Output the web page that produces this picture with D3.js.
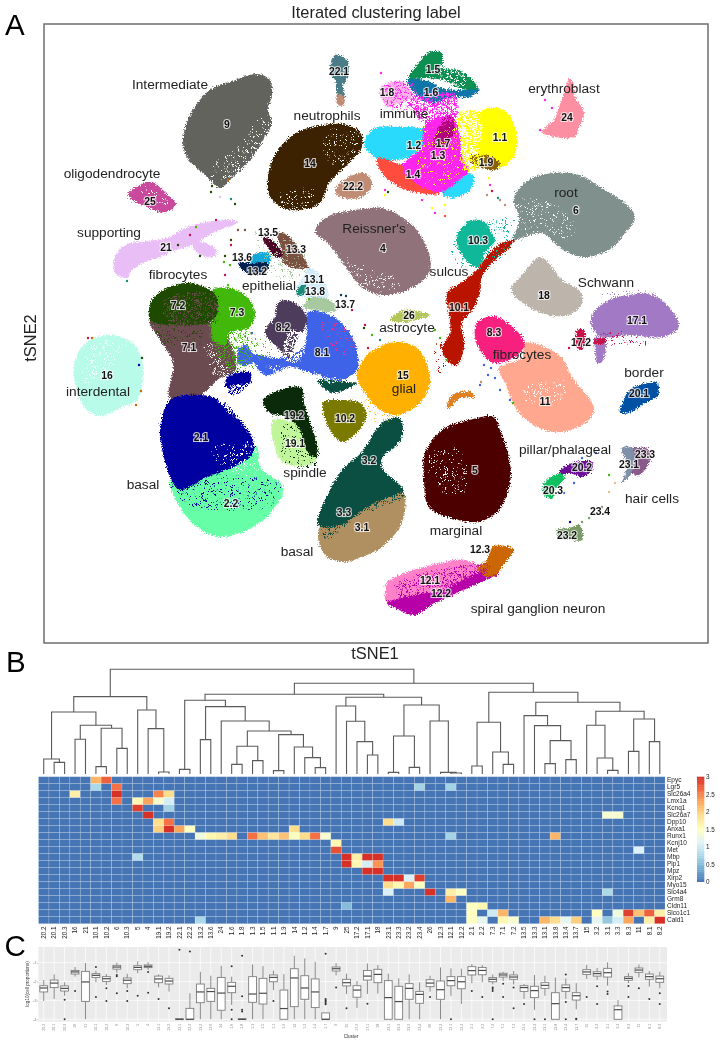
<!DOCTYPE html>
<html>
<head>
<meta charset="utf-8">
<script src="https://cdn.jsdelivr.net/npm/d3@7"></script>
<style>
    html, body { margin: 0; background: #fff; }
    svg { display: block; filter: blur(.45px); }
    text { font-family: "Liberation Sans", Arial, sans-serif; }
</style>
</head>
<body>
<svg id="chart" width="724" height="1049"></svg>
<script>
// order of the clusters under the heatmap and the boxplot
let clusterOrder = ['20.2','20.1','20.3','16','21','10.1','10.2','6','10.3','5','4','19.1','19.2','22.1','22.2','13.2','13.6','24','1.6','1.8','1.3','1.5','1.1','1.9','14','1.2','1.4','1.7','9','25','17.2','17.1','18','23.1','23.3','23.2','23.4','26','12.3','12.1','12.2','2.1','2.2','7.3','7.1','7.2','13.5','13.3','13.1','13.8','13.4','13.7','15','3.2','3.1','3.3','8.3','11','8.1','8.2']

let genes = ['Epyc','Lgr5','Slc26a4','Lmx1a','Kcnq1','Slc26a7','Dpp10','Anxa1','Runx1','Kcnj10','Met','Mbp','Plp1','Mpz','Xirp2','Myo15','Slc4a4','Grm8','Cldn11','Slco1c1','Cald1']

// non zero heatmap cells per gene: [column, value]
let heatCells = [
    [[5,2.2],[6,2.7]],
    [[5,.75],[7,2.6],[36,.7],[39,.7]],
    [[3,1.7],[7,3],[11,2.5],[12,1.9]],
    [[7,2.6],[9,1.6],[10,2.3],[11,1.4],[12,1.05]],
    [[9,2.9],[12,.7]],
    [[10,3],[54,1.4],[55,1.4]],
    [[11,1.9],[12,2.6],[33,1.9],[34,1]],
    [[11,2],[12,3],[13,2.3],[14,1.5],[24,1.9]],
    [[15,1.3],[16,1.6],[17,1.7],[18,1.9],[20,2.6],[21,2.1],[22,1.8],[23,2.1],[24,1.5],[25,1.9],[26,2.6],[27,1.4],[39,.7],[49,2.2]],
    [[28,1.6]],
    [[28,2.8],[57,1.1]],
    [[9,.8],[29,3],[30,1.7],[31,3],[32,3]],
    [[29,3],[30,1.6],[31,1.05],[32,2.4]],
    [[31,3],[32,3]],
    [[33,3],[34,3],[35,1.1],[36,2.9]],
    [[33,1.9],[34,1.6],[35,2.3],[36,1.5]],
    [[33,1.1],[37,3],[39,1.7],[40,1.5],[54,.75]],
    [[39,2.2]],
    [[29,.5],[41,1.5],[42,1.6]],
    [[41,1.5],[43,1],[44,2.2],[53,1.5],[55,1.3],[56,2.9],[57,2.1],[58,2.7],[59,1.7]],
    [[15,.75],[41,1.5],[42,1.2],[44,1.6],[45,1.4],[48,2.2],[49,1.9],[50,1.2],[51,2],[53,1.2],[54,.6],[55,1.05],[56,2.3],[58,1.7],[59,3]]
]
let heatLegendTicks = [0, .5, 1, 1.5, 2, 2.5, 3]
let heatLegendSteps = d3.range(0, 3, .05)

// dendrogram as [height, left, right], leaves are column numbers
let dendroLeft = [232,
    [186, [45, 0, [35, 1, 2]], [146, [104, 3, 4], [137, [22, 5, 6], [77, 7, 8]]]],
    [192, 9, [136, 10, [6, 11, 12]]]]
let dendroMid = [239,
    [221, [14, 13, 14], [202, [103, 15, 16], [159, 17, [129, [83, [29, 18, 19], [40, 20, 21]], [118, [10, 22, 23], [81, 24, [49, 25, [19, 26, 27]]]]]]]],
    [230, [204, 28, [158, 29, [97, 30, [57, 31, 32]]]], [207, [114, [5, 33, 34], [20, 35, 36]], [159, 37, [5, 38, [3, 39, 40]]]]]]
let dendroRight = [245,
    [155, [24, 41, 42], [66, 43, [29, 44, 45]]],
    [215, [175, 46, [145, 47, [100, [31, 48, 49], [43, 50, 51]]]],
        [188, [146, 52, [48, 53, [11, 54, 55]]], [165, [68, 56, 57], [97, 58, 59]]]]]
let dendroTree = [314, dendroLeft, [272, dendroMid, dendroRight]]

// boxplot stats, log10(cell proportions), in clusterOrder
let whiskerHi = [-1.92,-1.62,-2.04,-1.23,-1.02,-1.42,-1.6,-1,-1.58,-.93,-.98,-1.62,-1.67,-4,-2.62,-1.48,-1.69,-1.16,-1.74,-4,-1.09,-1.18,-1.42,-1.6,-.63,-.77,-.95,-3.66,-1.02,-1.58,-1.97,-1.04,-1.12,-1.58,-1.83,-1.62,-2.04,-1.69,-1.25,-1.3,-1.32,-1.07,-1.12,-1.62,-1.48,-1.44,-2.13,-1.65,-1.69,-1.79,-1.83,-2.08,-1.11,-1.28,-.98,-2.98,-1.55,-1.09,-1.44,-1.48]
let boxQ3 = [-2.22,-1.92,-2.23,-1.41,-1.46,-1.58,-1.74,-1.14,-1.81,-1.16,-1.12,-1.71,-1.83,-3.97,-3.42,-2.13,-2.36,-1.78,-2.04,-3.97,-1.74,-1.83,-1.65,-2.45,-1.32,-1.69,-1.86,-3.66,-1.23,-1.88,-2.22,-1.41,-1.35,-1.95,-2.25,-2.11,-2.52,-1.9,-1.97,-1.74,-1.74,-1.21,-1.25,-1.79,-1.56,-1.65,-2.22,-2.25,-2.06,-2.59,-2.18,-2.59,-1.37,-1.48,-1.3,-3.29,-1.74,-1.28,-1.6,-1.71]
let boxMed = [-2.34,-2.08,-2.36,-1.49,-2.02,-1.67,-1.85,-1.23,-1.93,-1.25,-1.19,-1.86,-1.97,-4,-4,-2.55,-2.53,-2.61,-2.25,-4,-2.66,-2.62,-1.78,-3.43,-1.81,-2.34,-2.55,-4,-1.32,-2.06,-2.45,-1.71,-1.62,-2.85,-3.06,-2.36,-2.68,-2.08,-2.43,-1.95,-2.01,-1.42,-1.41,-1.88,-1.65,-1.76,-2.32,-2.48,-2.2,-3.17,-2.32,-2.75,-1.49,-1.58,-1.53,-3.49,-1.83,-1.39,-1.74,-1.85]
let boxQ1 = [-2.55,-2.32,-2.5,-1.6,-3.05,-1.78,-1.99,-1.34,-2.11,-1.37,-1.26,-2.06,-2.13,-4.01,-4,-3.12,-3.05,-3.52,-2.59,-4.01,-3.1,-3.19,-2.01,-4,-3.33,-2.94,-3.38,-4,-1.44,-2.23,-2.83,-1.92,-2.06,-4,-4,-2.94,-3.15,-2.27,-2.94,-2.22,-2.38,-1.65,-1.64,-2.01,-1.76,-1.88,-2.52,-2.85,-2.36,-4,-2.52,-2.98,-1.62,-1.71,-1.76,-4,-1.93,-1.51,-1.88,-2.04]
let whiskerLo = [-3.03,-2.92,-2.75,-1.74,-4,-2.04,-2.18,-1.53,-2.36,-1.56,-1.39,-2.31,-2.53,-4,-4,-4,-4,-4,-3.24,-4,-4,-4,-2.45,-4,-4,-4,-4,-4,-1.67,-2.66,-3.4,-2.66,-2.64,-4,-4,-4,-4,-2.53,-4,-2.76,-3.19,-2.09,-2.04,-2.15,-1.97,-2.15,-2.92,-3.5,-2.75,-4,-2.92,-3.47,-1.86,-1.92,-2.22,-4,-2.08,-1.78,-2.27,-2.36]
let boxOutliers = [[],[],[-2.96,-4],[-2.5],[],[-1.23,-2.82],[-2.36,-3.03],[-1.65,-1.72,-2.62],[-2.5,-3.03],[-2.75],[-1.49,-2.59],[-2.92],[-3.42],[-.31],[-.4],[],[],[],[-1.19,-3.49,-4],[-.63,-2.78,-3.5,-3.58],[],[],[-3.03],[],[],[],[],[-.52,-2.92,-2.99,-3.06,-3.13,-3.2],[-2.32],[-3.42],[],[-3.17],[],[],[],[],[],[-2.82],[],[-4],[],[-2.5],[-2.82],[-2.32,-2.39,-2.5,-4],[-2.11,-2.82],[-2.32,-3.42],[-3.19],[-4],[-4],[],[-1.62,-3.08,-4],[-4,-3.97],[-2.82],[-2.25,-3.19],[-2.53,-2.66],[],[-2.23,-2.82],[-2.36],[-2.92],[-2.62,-3.19]]
let boxTicks = [-1, -2, -3, -4]

// tSNE colours per cluster
let clusterColor = {
    '9':'#63635d','14':'#3c2200','22.2':'#c08c74','22.1':'#4a7c88','25':'#c9499c','21':'#e9bdf6','4':'#8f727a','6':'#7f908d','24':'#fd8fa2',
    '1.5':'#0c8f50','1.6':'#1075a8','1.8':'#ffb2ea','1.2':'#2adafc','1.3':'#ff24ee','1.7':'#b0007c','1.4':'#ff4c3e','1.1':'#ffff00','1.9':'#8a6008',
    '10.3':'#10b89a','10.1':'#b81400','26':'#b2c65c','15':'#ffb000','8.3':'#f8207e','11':'#ffa88f','18':'#bdb5ab','17.1':'#a279c4','17.2':'#c81048',
    '20.1':'#0050a4','5':'#4d0000','3.2':'#0a4f42','3.1':'#b09060','10.2':'#7b7a00','19.1':'#c0f59a','19.2':'#0a2a0a','2.2':'#66ffa8','2.1':'#0000a0',
    '7.1':'#6b4a50','7.2':'#1e4a00','7.3':'#42b80a','8.2':'#4e3c5c','8.1':'#3f63e8','13.5':'#4a0826','13.3':'#7a5040','13.6':'#10a8d8','13.2':'#04224f',
    '13.1':'#d4ecf8','13.8':'#a8c8a0','13.4':'#1a8a78','13.7':'#0b3a50','16':'#b8fbe8','12.1':'#ff82c8','12.2':'#b800a8','12.3':'#cc6600','20.2':'#6a0f96',
    '20.3':'#10c060','23.1':'#8090a8','23.3':'#8a5a8a','23.2':'#7a9a6a','23.4':'#e8c090','orange':'#e08020','white':'#ffffff','pink':'#f03090'
}

// cluster outlines, [tSNE1, tSNE2]
let outlines = [
    ['9', [[213,569],[226,563],[228,548],[224,533],[228,520],[219,503],[206,483],[189,466],[176,455],[163,466],[143,486],[139,503],[146,528],[166,553],[189,562]]],
    ['22.2', [[318,470],[303,465],[291,453],[296,446],[318,446],[328,458],[324,468]]],
    ['14', [[303,518],[317,510],[318,496],[303,478],[286,461],[276,440],[256,433],[239,435],[226,446],[224,466],[232,490],[252,510],[279,518]]],
    ['22.1', [[291,588],[303,583],[304,568],[299,556],[301,546],[294,546],[291,563],[286,571]]],
    ['22.2', [[293,548],[299,548],[300,538],[294,538]]],
    ['25', [[84,448],[106,461],[126,446],[132,440],[123,431],[103,436]]],
    ['21', [[189,423],[194,421],[169,410],[149,398],[129,392],[116,386],[99,380],[86,370],[84,365],[71,370],[71,386],[81,398],[103,402],[123,405],[143,416],[169,422]]],
    ['21', [[148,403],[173,393],[169,386],[153,390]]],
    ['4', [[271,411],[283,426],[318,434],[338,435],[358,426],[375,410],[386,386],[385,370],[368,355],[338,348],[318,356],[296,384],[284,400]]],
    ['6', [[470,446],[485,463],[508,470],[535,468],[561,453],[581,440],[591,426],[581,410],[565,393],[538,386],[515,396],[498,410],[481,406],[470,403],[475,423]]],
    ['24', [[525,564],[529,560],[531,546],[540,531],[535,515],[531,506],[511,506],[498,511],[510,523],[515,536],[520,550]]],
    ['1.8', [[336,555],[348,561],[361,560],[368,546],[355,540],[345,536],[338,543]]],
    ['1.5', [[385,591],[398,590],[400,575],[415,573],[431,560],[433,553],[415,555],[398,563],[381,565],[365,565],[373,578]]],
    ['1.6', [[363,563],[381,563],[398,555],[415,553],[436,553],[425,546],[408,546],[385,540],[371,550]]],
    ['1.2', [[320,500],[331,515],[355,516],[378,515],[390,511],[378,496],[365,486],[338,483],[328,488]]],
    ['1.2', [[398,450],[421,470],[430,466],[426,453],[408,445]]],
    ['1.4', [[333,485],[358,478],[378,470],[391,461],[396,450],[375,450],[355,456],[338,470]]],
    ['1.3', [[381,518],[408,526],[415,510],[418,486],[425,473],[415,463],[398,451],[378,456],[358,476],[378,496]]],
    ['1.7', [[401,526],[408,528],[410,510],[405,503],[398,496],[390,496],[393,511]]],
    ['1.1', [[436,530],[453,536],[465,528],[473,506],[470,486],[458,476],[445,475],[435,488],[438,513]]],
    ['1.9', [[426,486],[441,488],[456,480],[451,473],[438,475],[428,480]]],
    ['10.3', [[428,423],[441,421],[448,410],[451,403],[441,390],[435,376],[425,380],[415,393],[413,408]]],
    ['10.1', [[470,403],[465,395],[451,383],[438,366],[436,350],[428,333],[418,320],[420,296],[413,278],[405,281],[398,293],[406,311],[406,323],[403,350],[418,361],[433,373],[446,391],[460,401]]],
    ['26', [[346,323],[359,333],[386,328],[373,323],[363,321]]],
    ['15', [[319,283],[333,295],[353,301],[373,295],[384,276],[386,260],[376,240],[353,228],[336,233],[321,250],[313,266]]],
    ['orange', [[403,235],[408,248],[428,251],[430,246],[415,245],[406,235]]],
    ['11', [[481,300],[515,288],[528,266],[550,235],[545,223],[518,211],[495,215],[475,230],[461,260],[455,275],[478,285]]],
    ['8.3', [[450,327],[466,318],[481,300],[471,286],[450,280],[438,290],[431,306],[433,320]]],
    ['18', [[496,386],[508,376],[518,363],[535,353],[538,340],[525,328],[505,328],[485,336],[467,353],[478,368]]],
    ['17.1', [[548,328],[565,343],[585,348],[608,348],[625,336],[635,316],[618,306],[585,308],[558,306],[548,316]]],
    ['17.1', [[551,306],[561,303],[558,281],[553,280],[551,293]]],
    ['17.2', [[533,313],[540,313],[541,303],[538,293],[533,295]]],
    ['17.2', [[550,303],[561,305],[560,300],[550,300]]],
    ['20.1', [[605,260],[613,261],[614,248],[601,240],[585,230],[576,230],[580,243],[588,255]]],
    ['5', [[398,213],[425,223],[450,226],[456,213],[461,200],[466,180],[466,160],[455,133],[435,121],[415,123],[385,136],[380,163],[381,190]]],
    ['3.1', [[318,160],[338,163],[355,158],[361,146],[358,120],[338,96],[318,86],[299,81],[281,88],[274,106],[276,116],[296,126],[318,136]]],
    ['3.2', [[338,220],[355,225],[359,210],[351,196],[340,188],[338,175],[356,158],[360,153],[326,138],[296,118],[274,118],[286,153],[298,173],[318,191]]],
    ['3.2', [[273,263],[303,261],[313,260],[289,250],[279,256]]],
    ['10.2', [[279,241],[293,243],[316,240],[322,230],[319,218],[308,206],[298,201],[288,210],[281,225]]],
    ['19.1', [[229,223],[269,210],[273,185],[266,178],[239,181],[231,196]]],
    ['19.2', [[219,243],[256,256],[261,236],[271,206],[273,186],[264,190],[256,213],[243,226],[226,230]]],
    ['2.2', [[126,163],[156,166],[189,190],[213,196],[216,176],[239,156],[229,133],[209,116],[176,106],[153,116],[136,136]]],
    ['7.1', [[106,323],[143,326],[178,313],[192,273],[176,265],[156,248],[126,245],[129,280],[116,303]]],
    ['7.3', [[169,353],[186,355],[203,346],[211,330],[206,316],[186,310],[181,298],[169,303],[168,328]]],
    ['7.2', [[108,343],[123,355],[143,360],[163,355],[173,346],[169,323],[126,318],[106,323]]],
    ['2.1', [[126,243],[156,248],[176,243],[196,223],[209,203],[209,190],[189,176],[163,166],[136,153],[126,166],[119,190],[116,213]]],
    ['2.1', [[183,266],[206,271],[206,260],[189,248],[183,253]]],
    ['8.1', [[264,331],[286,328],[306,310],[313,293],[313,273],[296,263],[266,270],[246,276],[221,268],[208,288],[236,285],[259,296],[263,316]]],
    ['8.1', [[201,298],[211,283],[196,278],[194,293]]],
    ['8.2', [[243,343],[259,333],[263,320],[253,303],[246,285],[234,295],[221,311],[231,326],[234,340]]],
    ['13.3', [[233,410],[246,406],[259,386],[264,376],[249,375],[239,381],[238,393]]],
    ['13.5', [[219,406],[228,403],[239,388],[234,385],[224,395]]],
    ['13.6', [[209,388],[224,390],[226,381],[206,380]]],
    ['13.2', [[194,381],[206,380],[224,380],[224,373],[213,368],[201,371]]],
    ['13.1', [[264,375],[273,371],[281,360],[284,346],[269,345],[256,348],[253,356],[259,365]]],
    ['13.8', [[269,346],[286,343],[293,335],[288,331],[273,333],[259,336]]],
    ['13.4', [[254,355],[263,358],[259,348],[253,348]]],
    ['16', [[31,283],[43,301],[63,308],[84,303],[96,290],[99,266],[93,243],[76,235],[56,227],[41,235],[31,260]]],
    ['12.1', [[343,60],[361,70],[401,81],[421,83],[445,70],[418,56],[398,46],[361,46],[343,40]]],
    ['12.2', [[343,40],[361,46],[398,53],[418,63],[448,75],[455,70],[435,60],[415,51],[391,40],[371,28],[355,33]]],
    ['12.3', [[448,96],[470,94],[461,80],[451,68],[443,66],[433,75],[443,83]]],
    ['20.2', [[528,180],[548,181],[548,173],[538,166],[526,170],[515,168],[515,171]]],
    ['20.3', [[518,170],[521,166],[511,153],[508,144],[500,148],[500,160]]],
    ['23.1', [[578,195],[590,195],[591,183],[588,170],[578,161],[583,176]]],
    ['23.3', [[590,195],[605,193],[605,180],[595,168],[588,170],[591,183]]],
    ['23.2', [[525,115],[536,118],[538,103],[528,103],[515,106],[513,113]]]
]

// zones where the colour of one cluster is mixed into another, and the gaps between the points
let mixedZones = [
    ['white','sparse',[[163,473],[191,493],[218,528],[226,518],[206,483],[181,461]]],
    ['white','sparse',[[286,513],[316,508],[301,478],[281,483]]],
    ['white','sparse',[[236,448],[271,453],[261,433],[241,435]]],
    ['white','sparse',[[291,388],[321,378],[356,363],[351,353],[316,358],[296,373]]],
    ['white','sparse',[[386,188],[416,193],[421,153],[406,148],[386,168]]],
    ['white','sparse',[[476,443],[511,438],[531,418],[526,403],[496,413],[476,403]]],
    ['white','sparse',[[476,253],[521,263],[516,243],[481,243]]],
    ['white','sparse',[[46,298],[81,298],[66,273],[41,258]]],
    ['white','sparse',[[166,193],[216,198],[211,168],[186,173]]],
    ['white','dense',[[171,248],[206,258],[209,223],[196,223]]],
    ['white','mid',[[161,298],[196,293],[191,271],[171,268],[166,283]]],
    ['white','mid',[[396,578],[421,571],[421,558],[396,563]]],
    ['white','dense',[[246,313],[261,308],[256,283],[241,283]]],
    ['white','mid',[[221,278],[296,263],[266,258],[236,268]]],
    ['white','sparse',[[96,455],[111,455],[126,438],[106,443]]],
    ['2.1','sparse',[[126,163],[239,158],[226,138],[146,138]]],
    ['7.1','mid',[[121,343],[171,348],[171,318],[126,318]]],
    ['7.2','sparse',[[111,323],[156,323],[156,298],[121,298]]],
    ['7.3','mid',[[166,318],[206,313],[201,273],[181,278]]],
    ['19.2','sparse',[[241,218],[271,203],[273,178],[241,181]]],
    ['3.2','mid',[[281,123],[341,165],[361,148],[316,128],[281,103]]],
    ['12.2','mid',[[351,58],[446,78],[436,63],[371,38]]],
    ['1.1','dense',[[411,528],[438,530],[438,478],[421,473],[416,508]]],
    ['1.3','dense',[[366,543],[411,548],[411,523],[381,518]]],
    ['1.6','sparse',[[376,546],[411,548],[411,528],[386,525]]],
    ['1.1','sparse',[[376,513],[416,513],[421,473],[381,458]]],
    ['1.3','mid',[[336,553],[366,561],[376,538],[346,535]]],
    ['pink','sparse',[[276,323],[311,308],[306,288],[286,298]]],
    ['13.8','sparse',[[211,411],[256,398],[266,373],[241,363],[216,383]]],
    ['10.3','sparse',[[411,403],[466,428],[470,403],[441,373],[411,381]]],
    ['15','sparse',[[321,250],[351,228],[341,218],[321,233]]],
    ['17.2','sparse',[[534,298],[566,313],[606,298],[566,298]]],
    ['17.1','sparse',[[556,348],[596,353],[616,348],[576,343]]],
    ['10.1','sparse',[[396,303],[411,283],[396,268],[391,288]]],
    ['7.3','sparse',[[196,305],[230,300],[214,275],[196,280]]]
]

// single points lying away from the clusters: [cluster, tSNE1, tSNE2]
let strayPoints = [
    ['7.2',168,457],['7.2',167,451],['21',176,446],['13.4',187,444],['7.2',191,439],['12.3',184,463],
    ['17.2',172,423],['7.3',152,416],['17.2',146,408],['13.3',194,413],['13.3',201,413],['7.2',187,403],['17.2',187,398],
    ['7.2',181,387],['7.2',156,387],['13.4',83,362],['7.2',134,398],['17.2',44,305],['12.3',48,305],['2.1',95,278],
    ['7.2',98,285],['12.3',97,252],['12.3',92,238],['7.3',180,381],['17.2',181,368],['7.3',184,358],['7.3',186,378],
    ['8.1',208,310],['7.3',265,344],['17.2',321,318],['7.3',328,308],['13.4',336,303],['17.2',324,295],['17.2',308,333],['7.2',320,315],
    ['13.7',297,348],['13.7',302,347],['13.7',299,342],['10.1',397,298],['7.3',403,283],['7.3',391,313],['7.3',396,305],
    ['1.1',445,465],['1.3',446,458],['22.2',443,448],['17.2',448,452],['1.1',388,435],['1.3',391,430],['1.4',401,427],['1.1',401,438],['1.3',378,443],
    ['1.3',341,453],['1.1',341,448],['7.2',344,451],['22.2',456,443],['22.2',461,438],['13.4',454,445],['1.3',501,543],['1.3',508,535],['1.3',496,513],
    ['1.3',391,573],['1.3',337,570],['23.4',565,151],['23.4',571,160],['23.2',558,136],['23.4',551,130],['23.2',545,125],['23.2',538,121],['2.1',526,121],
    ['8.1',440,278],['8.1',447,275],['8.1',444,268],['8.1',451,265],['8.1',456,253],['8.1',466,243],['7.3',469,240],['22.2',437,261],['8.1',436,258],
    ['8.1',530,160],['8.1',538,185],['8.1',552,190],['8.1',520,150],['17.2',525,295],['7.3',565,168]
]

// numbers printed on the clusters
let clusterLabels = ['22.1','9','14','22.2','25','21','13.5','13.3','13.6','13.2','13.1','13.8','13.7','7.2','7.3','8.2','8.1','7.1','16','2.1','2.2','19.2','19.1','10.2','3.3','3.1','3.2','5','11','15','26','10.1','10.3','4','6','18','17.1','17.2','8.3','24','1.5','1.6','1.8','1.1','1.2','1.7','1.3','1.9','1.4','20.1','20.2','20.3','23.3','23.1','23.4','23.2','12.3','12.1','12.2']
let clusterLabelX = [295,183,266,309,106,122,224,252,198,213,270,271,301,134,193,239,278,145,63,157,187,250,251,301,300,318,325,431,501,359,365,415,434,339,532,500,593,537,450,523,389,387,343,456,370,399,394,442,369,595,538,509,601,585,556,523,436,386,397]
let clusterLabelY = [572,519,480,457,442,396,411,394,386,372,364,352,339,338,331,316,291,296,268,206,140,228,200,225,131,116,183,173,242,268,328,336,403,395,433,348,323,301,311,526,574,551,551,506,498,500,488,481,469,250,176,153,189,179,132,108,94,63,50]

// names of the cell types
let typeLabels = ['Intermediate','neutrophils','immune','erythroblast','oligodendrocyte','supporting','fibrocytes','epithelial',"Reissner's",'sulcus','astrocyte','glial','Schwann','fibrocytes','border','interdental','basal','spindle','basal','marginal','pillar/phalageal','hair cells','spiral ganglion neuron','root']
let typeLabelX = [126,283,360,520,68,65,134,225,330,405,363,360,562,478,600,54,99,261,253,412,521,608,494,522]
let typeLabelY = [554,523,525,550,465,406,364,353,410,367,311,250,356,284,266,247,154,166,87,108,189,140,30,446]

let chart = d3.select('#chart')

// ---- panel letters and titles
chart.selectAll('.letter')
    .data([['A', 5, 34.5], ['B', 6, 671.5], ['C', 4.5, 955.5]])
    .enter()
    .append('text')
    .attr('class', 'letter')
    .attr('x', (d) => d[1])
    .attr('y', (d) => d[2])
    .attr('font-size', 29.5)
    .text((d) => d[0])

let frame = { left: 44, right: 708, top: 24, bottom: 643 }

chart.append('text').attr('x', 376).attr('y', 17.5).attr('text-anchor', 'middle').attr('font-size', 16.4).attr('fill', '#222').text('Iterated clustering label')
chart.append('text').attr('x', 375).attr('y', 659).attr('text-anchor', 'middle').attr('font-size', 16.4).attr('fill', '#222').text('tSNE1')
chart.append('text').attr('transform', 'translate(36,338) rotate(-90)').attr('text-anchor', 'middle').attr('font-size', 16.4).attr('fill', '#222').text('tSNE2')

// ---- panel A, tSNE map
let tsneX = d3.scaleLinear().domain([0, 664]).range([frame.left, frame.right])
let tsneY = d3.scaleLinear().domain([0, 619]).range([frame.bottom, frame.top])
let blob = d3.line()
    .x((d) => tsneX(d[0]))
    .y((d) => tsneY(d[1]))
    .curve(d3.curveCatmullRomClosed.alpha(.5))

// grainy edges and speckled fills, the cells are far too many to be drawn one by one
let defs = chart.append('defs')
let grain = defs.append('filter').attr('id', 'grain')
    .attr('filterUnits', 'userSpaceOnUse').attr('x', 40).attr('y', 20).attr('width', 672).attr('height', 628)
    .attr('color-interpolation-filters', 'sRGB')
grain.append('feTurbulence').attr('type', 'fractalNoise').attr('baseFrequency', .8).attr('numOctaves', 2).attr('seed', 4).attr('result', 'noise')
grain.append('feDisplacementMap').attr('in', 'SourceGraphic').attr('in2', 'noise').attr('scale', 6)
    .attr('xChannelSelector', 'R').attr('yChannelSelector', 'G')

let speckleLevels = { sparse: .6, mid: .53, dense: .46 }
Object.keys(speckleLevels).forEach((level) => {
    let f = defs.append('filter').attr('id', 'speckle-' + level)
        .attr('filterUnits', 'userSpaceOnUse').attr('x', 40).attr('y', 20).attr('width', 672).attr('height', 628)
        .attr('color-interpolation-filters', 'sRGB')
    f.append('feTurbulence').attr('type', 'fractalNoise').attr('baseFrequency', .55).attr('numOctaves', 2).attr('seed', 11).attr('result', 'noise')
    f.append('feColorMatrix').attr('in', 'noise').attr('type', 'matrix')
        .attr('values', '0 0 0 0 0  0 0 0 0 0  0 0 0 0 0  14 0 0 0 ' + (-14 * speckleLevels[level]))
        .attr('result', 'mask')
    f.append('feComposite').attr('in', 'SourceGraphic').attr('in2', 'mask').attr('operator', 'in').attr('result', 'dots')
    f.append('feDisplacementMap').attr('in', 'dots').attr('in2', 'noise').attr('scale', 5)
        .attr('xChannelSelector', 'R').attr('yChannelSelector', 'G')
})

chart.append('g')
    .attr('filter', 'url(#grain)')
    .selectAll('path')
    .data(outlines)
    .enter()
    .append('path')
    .attr('d', (d) => blob(d[1]))
    .attr('fill', (d) => clusterColor[d[0]])

Object.keys(speckleLevels).forEach((level) => {
    chart.append('g')
        .attr('filter', 'url(#speckle-' + level + ')')
        .selectAll('path')
        .data(mixedZones.filter((d) => d[1] == level))
        .enter()
        .append('path')
        .attr('d', (d) => blob(d[2]))
        .attr('fill', (d) => clusterColor[d[0]])
})

chart.append('g')
    .selectAll('circle')
    .data(strayPoints)
    .enter()
    .append('circle')
    .attr('cx', (d) => tsneX(d[1]))
    .attr('cy', (d) => tsneY(d[2]))
    .attr('r', 1.2)
    .attr('fill', (d) => clusterColor[d[0]])

chart.append('rect')
    .attr('x', frame.left).attr('y', frame.top)
    .attr('width', frame.right - frame.left).attr('height', frame.bottom - frame.top)
    .attr('fill', 'none').attr('stroke', '#6e6e6e').attr('stroke-width', 1.5)

chart.append('g')
    .selectAll('text')
    .data(typeLabels)
    .enter()
    .append('text')
    .attr('x', (d, i) => tsneX(typeLabelX[i]))
    .attr('y', (d, i) => tsneY(typeLabelY[i]))
    .attr('text-anchor', 'middle')
    .attr('font-size', 13.7)
    .attr('fill', '#222')
    .text((d) => d)

chart.append('g')
    .selectAll('text')
    .data(clusterLabels)
    .enter()
    .append('text')
    .attr('x', (d, i) => tsneX(clusterLabelX[i]))
    .attr('y', (d, i) => tsneY(clusterLabelY[i]))
    .attr('text-anchor', 'middle')
    .attr('dominant-baseline', 'central')
    .attr('font-size', 10.4)
    .attr('font-weight', 'bold')
    .attr('fill', '#111')
    .attr('stroke', '#fff')
    .attr('stroke-opacity', .75)
    .attr('stroke-width', 2.2)
    .attr('paint-order', 'stroke')
    .text((d) => d)

// ---- panel B, dendrogram
let columns = d3.scaleBand().domain(clusterOrder).range([38.5, 665])
let rows = d3.scaleBand().domain(genes).range([776.7, 923.7])
let colCenter = (i) => columns(clusterOrder[i]) + columns.bandwidth() / 2
let dendroY = d3.scaleLinear().domain([0, 314]).range([774, 669.3])
let dendroPaths = []

function walkTree(node) {
    if (typeof node == 'number') return { x: colCenter(node), h: 0 }
    let a = walkTree(node[1])
    let b = walkTree(node[2])
    let y = dendroY(node[0])
    dendroPaths.push('M' + a.x + ',' + dendroY(a.h) + 'V' + y + 'H' + b.x + 'V' + dendroY(b.h))
    return { x: (a.x + b.x) / 2, h: node[0] }
}
walkTree(dendroTree)

chart.append('g')
    .selectAll('path')
    .data(dendroPaths)
    .enter()
    .append('path')
    .attr('d', (d) => d)
    .attr('fill', 'none')
    .attr('stroke', '#5a5a5a')
    .attr('stroke-width', 1.1)

// ---- panel B, heatmap
let heatColor = d3.scaleLinear()
    .domain(d3.range(9).map((i) => i * 3 / 8))
    .range(['#4575b4','#74add1','#abd9e9','#e0f3f8','#ffffbf','#fee090','#fdae61','#f46d43','#d73027'])

let heatValue = (r, c) => {
    let hit = heatCells[r].find((d) => d[0] == c)
    return hit ? hit[1] : 0
}

let heat = chart.append('g')
genes.forEach((gene, r) => {
    heat.append('g')
        .selectAll('rect')
        .data(clusterOrder)
        .enter()
        .append('rect')
        .attr('x', (d) => columns(d))
        .attr('y', rows(gene))
        .attr('width', columns.bandwidth())
        .attr('height', rows.bandwidth())
        .attr('fill', (d, c) => heatColor(heatValue(r, c)))
        .attr('stroke', '#fff')
        .attr('stroke-opacity', .22)
        .attr('stroke-width', .7)
})

let geneAxis = chart.append('g')
    .attr('transform', 'translate(665,0)')
    .call(d3.axisRight().scale(rows).tickSize(0).tickPadding(2))
geneAxis.select('.domain').remove()
geneAxis.selectAll('text').attr('font-size', 6.5).attr('fill', '#222').style('font-family', '"Liberation Sans"')

let clusterAxis = chart.append('g')
    .attr('transform', 'translate(0,926.5)')
    .call(d3.axisTop().scale(columns).tickSize(0).tickPadding(0))
clusterAxis.select('.domain').remove()
clusterAxis.selectAll('text')
    .attr('transform', 'rotate(-90)')
    .attr('x', 0)
    .attr('y', 0)
    .attr('dy', '.35em')
    .attr('text-anchor', 'end')
    .attr('font-size', 6.3)
    .attr('fill', '#222')
    .style('font-family', '"Liberation Sans"')
clusterAxis.selectAll('.tick')
    .attr('transform', (d) => 'translate(' + (columns(d) + columns.bandwidth() / 2) + ',0)')

let legendY = d3.scaleLinear().domain([0, 3]).range([881.7, 776.7])
chart.append('g')
    .selectAll('rect')
    .data(heatLegendSteps)
    .enter()
    .append('rect')
    .attr('x', 697)
    .attr('y', (d) => legendY(d + .05))
    .attr('width', 7.3)
    .attr('height', legendY(0) - legendY(.05) + .3)
    .attr('fill', (d) => heatColor(d + .025))
let legendAxis = chart.append('g')
    .attr('transform', 'translate(705,0)')
    .call(d3.axisRight().scale(legendY).tickValues(heatLegendTicks).tickSize(0).tickPadding(1).tickFormat((d) => d))
legendAxis.select('.domain').remove()
legendAxis.selectAll('text').attr('font-size', 6.3).attr('fill', '#222').style('font-family', '"Liberation Sans"')

// ---- panel C, boxplots
let boxY = d3.scaleLinear().domain([-1, -4]).range([962.7, 1019.3])
let panelTop = 947
let panelBottom = 1021.7

chart.append('rect')
    .attr('x', 38.5).attr('y', panelTop)
    .attr('width', 628.5).attr('height', panelBottom - panelTop)
    .attr('fill', '#ebebeb')

chart.append('g').selectAll('line').data(boxTicks).enter().append('line')
    .attr('x1', 38.5).attr('x2', 667)
    .attr('y1', (d) => boxY(d)).attr('y2', (d) => boxY(d))
    .attr('stroke', '#fff').attr('stroke-width', .7)
chart.append('g').selectAll('line').data(clusterOrder).enter().append('line')
    .attr('x1', (d, i) => colCenter(i)).attr('x2', (d, i) => colCenter(i))
    .attr('y1', panelTop).attr('y2', panelBottom)
    .attr('stroke', '#fff').attr('stroke-width', .7)

let boxes = chart.append('g')
    .selectAll('g')
    .data(clusterOrder)
    .enter()
    .append('g')

boxes.append('path')
    .attr('d', (d, i) => 'M' + colCenter(i) + ',' + boxY(whiskerHi[i]) + 'V' + boxY(boxQ3[i]) + 'M' + colCenter(i) + ',' + boxY(boxQ1[i]) + 'V' + boxY(whiskerLo[i]))
    .attr('stroke', '#7d7d7d')
    .attr('stroke-width', .9)
boxes.append('rect')
    .attr('x', (d, i) => colCenter(i) - 3.9)
    .attr('y', (d, i) => boxY(boxQ3[i]))
    .attr('width', 7.8)
    .attr('height', (d, i) => boxY(boxQ1[i]) - boxY(boxQ3[i]))
    .attr('fill', '#fff')
    .attr('stroke', '#7d7d7d')
    .attr('stroke-width', .9)
boxes.append('line')
    .attr('x1', (d, i) => colCenter(i) - 3.9)
    .attr('x2', (d, i) => colCenter(i) + 3.9)
    .attr('y1', (d, i) => boxY(boxMed[i]))
    .attr('y2', (d, i) => boxY(boxMed[i]))
    .attr('stroke', '#4a4a4a')
    .attr('stroke-width', 1.2)
boxes.selectAll('circle')
    .data((d, i) => boxOutliers[i].map((v) => [i, v]))
    .enter()
    .append('circle')
    .attr('cx', (d) => colCenter(d[0]))
    .attr('cy', (d) => boxY(d[1]))
    .attr('r', 1)
    .attr('fill', '#333')

let boxAxis = chart.append('g')
    .attr('transform', 'translate(38.5,0)')
    .call(d3.axisLeft().scale(boxY).tickValues(boxTicks).tickSize(1.5).tickPadding(.5).tickFormat((d) => d))
boxAxis.select('.domain').remove()
boxAxis.selectAll('line').attr('stroke', '#888').attr('stroke-width', .4)
boxAxis.selectAll('text').attr('font-size', 3.6).attr('fill', '#777').style('font-family', '"Liberation Sans"')

let boxBottom = chart.append('g')
    .attr('transform', 'translate(0,' + panelBottom + ')')
    .call(d3.axisBottom().scale(columns).tickSize(0).tickPadding(0))
boxBottom.select('.domain').remove()
boxBottom.selectAll('text')
    .attr('transform', 'rotate(-90)')
    .attr('x', -2)
    .attr('y', 0)
    .attr('dy', '.35em')
    .attr('text-anchor', 'end')
    .attr('font-size', 3.6)
    .attr('fill', '#888')
    .style('font-family', '"Liberation Sans"')

chart.append('text').attr('x', 351).attr('y', 1037.5).attr('text-anchor', 'middle').attr('font-size', 4.6).attr('fill', '#333').text('Cluster')
chart.append('text').attr('transform', 'translate(28.5,984) rotate(-90)').attr('text-anchor', 'middle').attr('font-size', 4.6).attr('fill', '#333').text('log10(cell proportions)')
</script>
</body>
</html>
